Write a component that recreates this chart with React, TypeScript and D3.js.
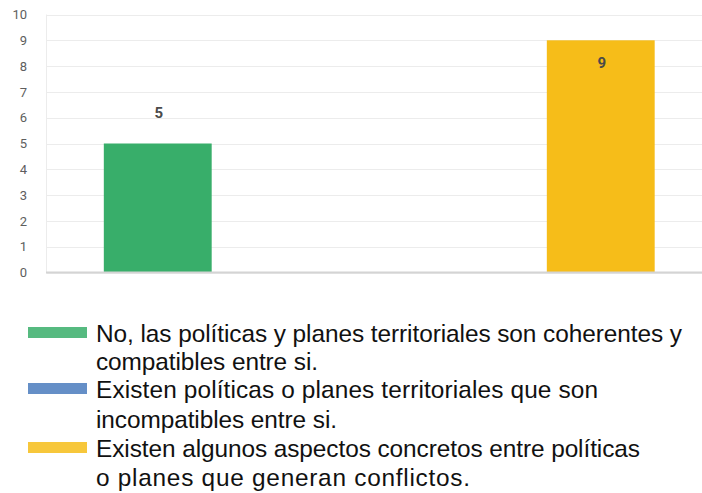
import React from "react";
import * as d3 from "d3";

const categories = [
  "No, las políticas y planes territoriales son coherentes y compatibles entre si.",
  "Existen políticas o planes territoriales que son incompatibles entre si.",
  "Existen algunos aspectos concretos entre políticas o planes que generan conflictos.",
];
const values = [5, 0, 9];
const colors = ["#38ae6a", "#4a7bbd", "#f6bd19"];
const legendLines = [
  ["No, las políticas y planes territoriales son coherentes y", "compatibles entre si."],
  ["Existen políticas o planes territoriales que son", "incompatibles entre si."],
  ["Existen algunos aspectos concretos entre políticas", "o planes que generan conflictos."],
];
const yTicks = [0, 1, 2, 3, 4, 5, 6, 7, 8, 9, 10];

const W = 702;
const H = 493;

export default function App() {
  const x = d3.scaleBand<string>().domain(categories).range([47, 711.5]).padding(0);
  const y = d3.scaleLinear().domain([0, 10]).range([272.5, 14.5]);
  const barW = x.bandwidth() * 0.487;

  const baselines = [342, 370, 398, 428, 457, 486];
  const lineWidths = [586, 222, 502, 241, 544, 374];

  return (
    <svg
      width={W}
      height={H}
      style={{ position: "absolute", left: 0, top: 0, display: "block", background: "#fff" }}
    >
      <rect x={0} y={0} width={W} height={H} fill="#fff" />
      {/* gridlines */}
      {yTicks.map((t) => (
        <line key={t} x1={46.5} x2={W} y1={Math.round(y(t)) + 0.5} y2={Math.round(y(t)) + 0.5} stroke="#ececec" strokeWidth={1} />
      ))}
      <line x1={46.5} x2={46.5} y1={y(10)} y2={y(0)} stroke="#ececec" strokeWidth={1} />
      {/* tick labels */}
      {yTicks.map((t) => (
        <text
          key={"l" + t}
          x={27}
          y={y(t)}
          dy="0.36em"
          textAnchor="end"
          fontFamily="Roboto, 'Liberation Sans', sans-serif"
          fontSize={13}
          fill="#5e5e5e"
        >
          {t}
        </text>
      ))}
      {/* bars */}
      {categories.map((c, i) => {
        const cx = (x(c) as number) + x.bandwidth() / 2;
        const top = y(values[i]);
        return values[i] > 0 ? (
          <rect key={"b" + i} x={cx - barW / 2} y={top} width={barW} height={y(0) - top} fill={colors[i]} />
        ) : null;
      })}
      {/* baseline */}
      <line x1={46} x2={W} y1={272.5} y2={272.5} stroke="#d4d4d4" strokeWidth={2} />
      {/* value labels */}
      {categories.map((c, i) => {
        if (values[i] <= 0) return null;
        const cx = (x(c) as number) + x.bandwidth() / 2;
        const top = y(values[i]);
        let ly = top - 31;
        if (ly < 30) ly = top + 22;
        return (
          <text
            key={"v" + i}
            x={cx + 1}
            y={ly}
            dy="0.36em"
            textAnchor="middle"
            fontFamily="Roboto, 'Liberation Sans', sans-serif"
            fontWeight="bold"
            fontSize={15}
            fill="#4a4a4a"
          >
            {values[i]}
          </text>
        );
      })}
      {/* legend */}
      {legendLines.map((lines, i) => (
        <g key={"lg" + i}>
          <rect x={28} y={baselines[i * 2] - 15} width={59} height={11} fill={colors[i]} opacity={0.85} />
          {lines.map((ln, j) => (
            <text
              key={j}
              x={96}
              y={baselines[i * 2 + j]}
              fontFamily="'Liberation Sans', Arial, sans-serif"
              fontSize={24.4}
              fill="#111"
              textLength={lineWidths[i * 2 + j]}
              lengthAdjust="spacing"
            >
              {ln}
            </text>
          ))}
        </g>
      ))}
    </svg>
  );
}
